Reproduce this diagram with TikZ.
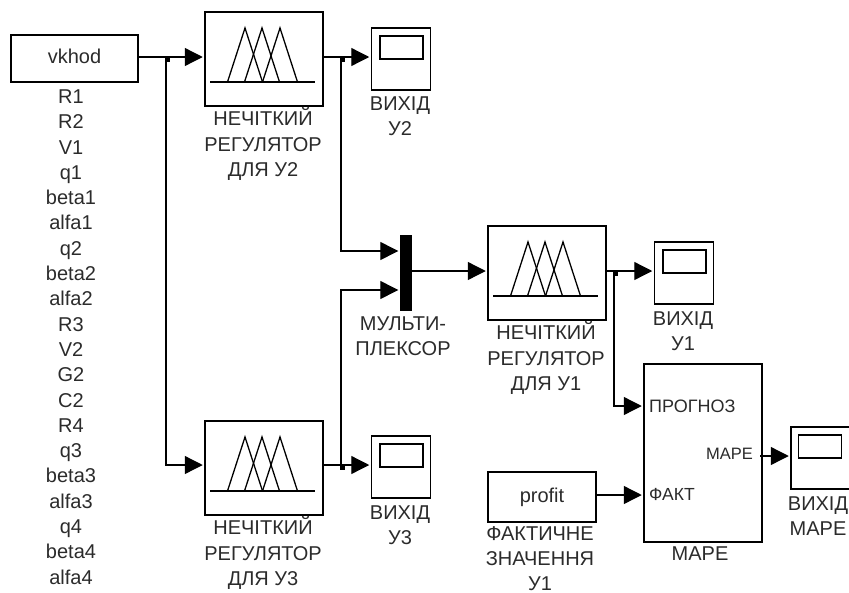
\documentclass[tikz,border=0pt]{standalone}
\usepackage{fontspec}
\setmainfont{Liberation Sans}
\definecolor{labeltext}{HTML}{2B2B2B}
\usetikzlibrary{arrows.meta,positioning}
\tikzset{
  block/.style={rectangle, draw=black, fill=white, line width=1.5pt, inner sep=0pt},
  fuzzybox/.style={block, minimum width=118pt, minimum height=94pt},
  scopebox/.style={block, minimum width=59pt, minimum height=62pt},
  screenbox/.style={rectangle, draw=black, line width=1.5pt, inner sep=0pt, minimum width=43pt, minimum height=23pt},
  caption/.style={inner sep=0pt, align=center, text=labeltext, font=\fontsize{20}{25.3}\selectfont},
  portlabel/.style={inner sep=0pt, text=labeltext, font=\fontsize{18}{21}\selectfont},
  junction/.style={rectangle, fill=black, inner sep=0pt, minimum width=5pt, minimum height=5pt},
  wire/.style={line width=1.3pt, -{Triangle[length=18pt,width=18pt]}, shorten >=1.5pt},
}
\newcommand{\fuzzyicon}[1]{
  \begin{scope}[shift={(#1.center)}, line width=1.3pt]
    \draw (-54,23) -- (51,23);
    \foreach \peak in {-19,-2,16} {
      \draw (\peak-17.5,23) -- (\peak,-31) -- (\peak+17.5,23);
    }
  \end{scope}
}
\begin{document}
\begin{tikzpicture}[x=1pt,y=-1pt]
  \useasboundingbox (0,0) rectangle (849,592);

  % blocks
  \node[block, minimum width=127pt, minimum height=47pt, text=labeltext, font=\fontsize{20}{22}\selectfont] (vkhod) at (74.5,58.5) {\raisebox{4pt}{vkhod}};
  \node[fuzzybox] (fuzzyA) at (264,59) {};
  \node[fuzzybox] (fuzzyC) at (264,468) {};
  \node[fuzzybox] (fuzzyB) at (547,273) {};
  \node[scopebox] (scopeA) at (401,59) {};
  \node[scopebox] (scopeC) at (401,467) {};
  \node[scopebox] (scopeB) at (684,273) {};
  \node[scopebox] (scopeM) at (820.5,458) {};
  \node[screenbox] (screenA) at (401.5,47.5) {};
  \node[screenbox] (screenC) at (401.5,455.5) {};
  \node[screenbox] (screenB) at (684.5,261.5) {};
  \node[screenbox] (screenM) at (820,446.5) {};
  \node[rectangle, fill=black, inner sep=0pt, minimum width=12pt, minimum height=76pt] (mux) at (406,273) {};
  \node[block, minimum width=108pt, minimum height=50pt, text=labeltext, font=\fontsize{20}{22}\selectfont] (profit) at (542,497) {\raisebox{4pt}{profit}};
  \node[block, minimum width=118pt, minimum height=178pt] (mape) at (703,453) {};
  \fuzzyicon{fuzzyA}
  \fuzzyicon{fuzzyB}
  \fuzzyicon{fuzzyC}

  % labels
  \node[caption] (inputs) at (71,337) {R1\\R2\\V1\\q1\\beta1\\alfa1\\q2\\beta2\\alfa2\\R3\\V2\\G2\\C2\\R4\\q3\\beta3\\alfa3\\q4\\beta4\\alfa4};
  \node[caption] (capA) at (263,144) {НЕЧІТКИЙ\\РЕГУЛЯТОР\\ДЛЯ У2};
  \node[caption] (capC) at (263,553) {НЕЧІТКИЙ\\РЕГУЛЯТОР\\ДЛЯ У3};
  \node[caption] (capB) at (546,358) {НЕЧІТКИЙ\\РЕГУЛЯТОР\\ДЛЯ У1};
  \node[caption] (outA) at (400,116) {ВИХІД\\У2};
  \node[caption] (outC) at (400,525) {ВИХІД\\У3};
  \node[caption] (outB) at (683,331) {ВИХІД\\У1};
  \node[caption] (outM) at (818,516) {ВИХІД\\MAPE};
  \node[caption] (muxcap) at (403,336) {МУЛЬТИ-\\ПЛЕКСОР};
  \node[caption] (profitcap) at (540,558.5) {ФАКТИЧНЕ\\ЗНАЧЕННЯ\\У1};
  \node[caption] (mapecap) at (700,554) {MAPE};
  \node[portlabel, anchor=west] (portP) at (649,406) {ПРОГНОЗ};
  \node[portlabel, anchor=west, font=\fontsize{17.5}{21}\selectfont] (portF) at (649,494) {ФАКТ};
  \node[portlabel, anchor=east, font=\fontsize{16.5}{21}\selectfont] (portM) at (753,454) {MAPE};

  % connectors
  \coordinate (brA) at (166,57);
  \coordinate (brB) at (341,57);
  \coordinate (brC) at (341,465);
  \coordinate (brD) at (614,271);
  \coordinate (mapeout) at (760,456);
  \node[junction] (jA) at (167.5,59.5) {};
  \node[junction] (jB) at (342.5,59.5) {};
  \node[junction] (jC) at (342.5,467.5) {};
  \node[junction] (jD) at (615.5,273.5) {};
  \draw[wire] ([yshift=1.5pt]vkhod.east) -- ([yshift=2pt]fuzzyA.west);
  \draw[wire] (brA) |- ([yshift=3pt]fuzzyC.west);
  \draw[wire] ([yshift=2pt]fuzzyA.east) -- ([yshift=2pt]scopeA.west);
  \draw[wire] (brB) |- ([yshift=22pt]mux.west);
  \draw[wire] ([yshift=3pt]fuzzyC.east) -- ([yshift=2pt]scopeC.west);
  \draw[wire] (brC) |- ([yshift=-17pt]mux.west);
  \draw[wire] ([yshift=2pt]mux.east) -- ([yshift=2pt]fuzzyB.west);
  \draw[wire] ([yshift=2pt]fuzzyB.east) -- ([yshift=2pt]scopeB.west);
  \draw[wire] (brD) |- ([yshift=47pt]mape.west);
  \draw[wire] ([yshift=2pt]profit.east) -- ([yshift=-42pt]mape.west);
  \draw[wire] (mapeout) -- ([yshift=2pt]scopeM.west);
\end{tikzpicture}
\end{document}
